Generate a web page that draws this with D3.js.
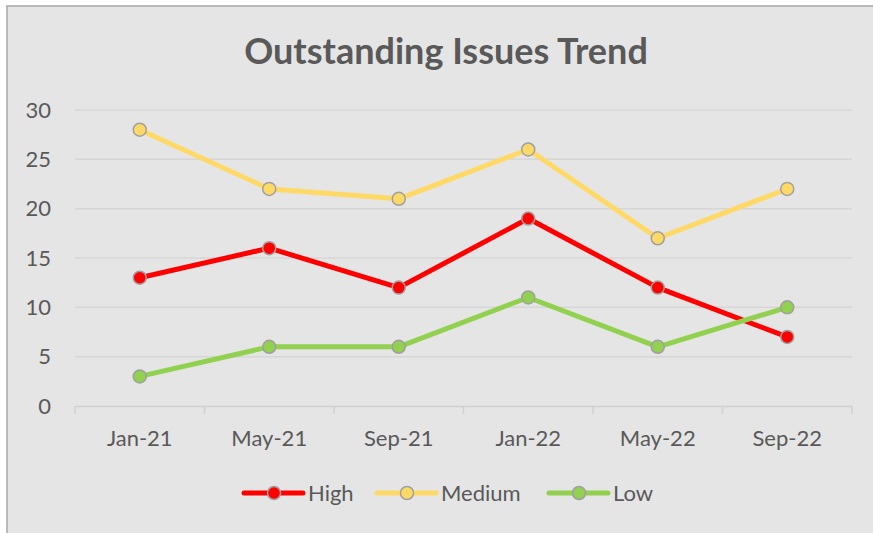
<!DOCTYPE html>
<html><head><meta charset="utf-8">
<script src="https://cdn.jsdelivr.net/npm/d3@7"></script>
<style>html,body{margin:0;padding:0;background:#fff;}svg{display:block;}</style>
</head><body>
<svg id="chart" width="873" height="533"></svg>
<script>
const categories = ["Jan-21","May-21","Sep-21","Jan-22","May-22","Sep-22"];
const highValues = [13,16,12,19,12,7];
const mediumValues = [28,22,21,26,17,22];
const lowValues = [3,6,6,11,6,10];
const yTicks = [0,5,10,15,20,25,30];
const seriesNames = ["High","Medium","Low"];
const seriesColors = ["#ff0000","#ffd966","#92d050"];

(function(){
const series = [
  {name: seriesNames[0], values: highValues, color: seriesColors[0]},
  {name: seriesNames[1], values: mediumValues, color: seriesColors[1]},
  {name: seriesNames[2], values: lowValues, color: seriesColors[2]}
];

const font = "Lato, 'Open Sans', sans-serif";
const labelSize = 22;
const svg = d3.select("#chart");
svg.append("rect").attr("x",7).attr("y",6).attr("width",880).attr("height",540)
  .attr("fill","#e5e5e5").attr("stroke","#a6a6a6").attr("stroke-width",1.5);

const pLeft = 75, pRight = 852, pTop = 110, pBottom = 406;
const x = d3.scaleBand().domain(categories).range([pLeft,pRight]);
const y = d3.scaleLinear().domain([0,30]).range([pBottom,pTop]);

svg.append("text").attr("x",446).attr("y",64).attr("text-anchor","middle")
  .attr("font-family",font).attr("font-weight","bold").attr("font-size",36)
  .attr("fill","#595959").text("Outstanding Issues Trend");

svg.append("g").selectAll("line").data(yTicks.filter(d=>d>0)).join("line")
  .attr("x1",pLeft).attr("x2",pRight).attr("y1",d=>y(d)).attr("y2",d=>y(d))
  .attr("stroke","#d6d6d6").attr("stroke-width",1.5);

const yAxis = svg.append("g").attr("transform",`translate(${pLeft},0)`)
  .call(d3.axisLeft(y).tickValues(yTicks).tickSize(0).tickPadding(24));
yAxis.select(".domain").remove();
yAxis.selectAll("text").attr("font-family",font).attr("font-size",labelSize).attr("fill","#595959");

const xAxis = svg.append("g").attr("transform",`translate(0,${pBottom})`)
  .call(d3.axisBottom(x).tickSize(0).tickPadding(24));
xAxis.select(".domain").attr("stroke","#d0d0d0").attr("stroke-width",1.5);
xAxis.selectAll("text").attr("font-family",font).attr("font-size",labelSize).attr("fill","#595959");
const bounds = categories.map(c=>x(c)).concat([pRight]);
svg.append("g").selectAll("line").data(bounds).join("line")
  .attr("x1",d=>d).attr("x2",d=>d).attr("y1",pBottom).attr("y2",pBottom+8)
  .attr("stroke","#d0d0d0").attr("stroke-width",1.5);

const cx = c => x(c) + x.bandwidth()/2;
const line = d3.line().x((d,i)=>cx(categories[i])).y(d=>y(d));

series.forEach(s=>{
  const g = svg.append("g");
  g.append("path").datum(s.values).attr("d",line).attr("fill","none")
    .attr("stroke",s.color).attr("stroke-width",5).attr("stroke-linejoin","round");
  g.selectAll("circle").data(s.values).join("circle")
    .attr("cx",(d,i)=>cx(categories[i])).attr("cy",d=>y(d)).attr("r",6.5)
    .attr("fill",s.color).attr("stroke","#a0a0a0").attr("stroke-width",1.5);
});

const legendX = [244,377,549];
series.forEach((s,i)=>{
  const g = svg.append("g").attr("transform",`translate(${legendX[i]},493)`);
  g.append("line").attr("x1",0).attr("x2",59).attr("y1",0).attr("y2",0)
    .attr("stroke",s.color).attr("stroke-width",5).attr("stroke-linecap","round");
  g.append("circle").attr("cx",30).attr("cy",0).attr("r",6.5)
    .attr("fill",s.color).attr("stroke","#a0a0a0").attr("stroke-width",1.5);
  g.append("text").attr("x",64).attr("y",8).attr("font-family",font).attr("font-size",labelSize)
    .attr("fill","#595959").text(s.name);
});
})();
</script>
</body></html>
